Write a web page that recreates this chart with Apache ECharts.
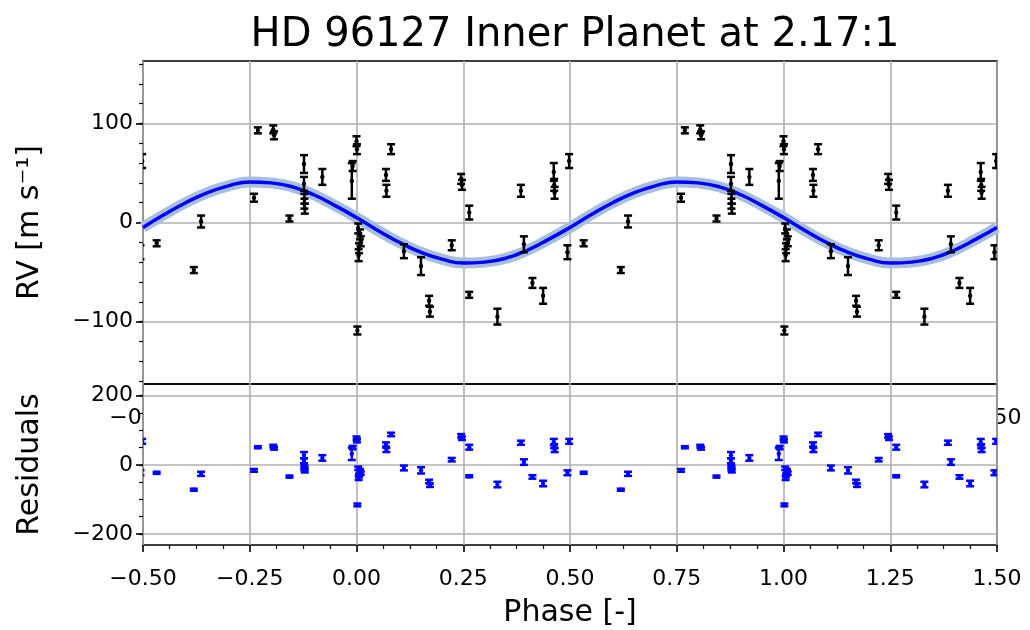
<!DOCTYPE html>
<html>
<head>
<meta charset="utf-8">
<script src="https://cdn.jsdelivr.net/npm/echarts@6/dist/echarts.min.js"></script>
<style>
  html, body { margin: 0; padding: 0; background: #fff; }
  #rvChart { width: 1030px; height: 630px; }
</style>
</head>
<body>
<div id="rvChart"></div>
<script>
// phase-folded measurements, one cycle (drawn again shifted by -1 / +1)
const obsPhase = [-0.468, -0.381, -0.364, -0.240, -0.231, -0.195, -0.193, -0.157, -0.123, -0.123,
  -0.122, -0.122, -0.121, -0.080, -0.009, -0.011, 0.000, 0.001, 0.004, 0.008,
  0.010, 0.006, 0.005, 0.002, 0.069, 0.070, 0.081, 0.111, 0.151, 0.170,
  0.172, 0.223, 0.245, 0.247, 0.264, 0.264, 0.330, 0.385, 0.392, 0.412,
  0.437, 0.462, 0.463, 0.464, 0.494, 0.498];
const obsRV = [-21, -48, 1, 25, 93, 94, 88, 4, 59, 39,
  24, 19, 14, 46, 57, 42, 82, 74, -6, -12,
  -19, -26, -33, -109, 48, 32, 74, -29, -44, -79,
  -90, -23, 44, 38, 10, -73, -95, 32, -22, -61,
  -74, 51, 38, 30, -30, 62];
const obsErr = [3, 3, 6, 4, 3, 4, 4, 3, 9, 7,
  5, 5, 5, 8, 5, 18, 5, 5, 5, 5,
  5, 5, 6, 4, 6, 6, 5, 7, 9, 5,
  5, 5, 5, 5, 7, 3, 8, 6, 8, 5,
  8, 9, 6, 6, 7, 7];
const obsResid = [-23, -72, -26, -16, 51, 54, 48, -34, 28, 12,
  -6, -11, -17, 20, 50, 32, 77, 70, -10, -17,
  -24, -31, -38, -116, 59, 43, 88, -9, -16, -48,
  -59, 15, 84, 77, 51, -33, -57, 64, 8, -35,
  -54, 66, 54, 43, -23, 68];

// fitted curve
const modelPhase = [-0.50, -0.45, -0.40, -0.35, -0.30, -0.25, -0.20, -0.15, -0.10, -0.05,
  0.00, 0.05, 0.10, 0.15, 0.20, 0.25, 0.30, 0.35, 0.40, 0.45,
  0.50, 0.55, 0.60, 0.65, 0.70, 0.75, 0.80, 0.85, 0.90, 0.95,
  1.00, 1.05, 1.10, 1.15, 1.20, 1.25, 1.30, 1.35, 1.40, 1.45, 1.50];
const modelRV = [-5, 8, 20, 30, 37, 41, 40, 36, 28, 17,
  5, -8, -20, -30, -37, -41, -40, -36, -28, -17,
  -5, 8, 20, 30, 37, 41, 40, 36, 28, 17,
  5, -8, -20, -30, -37, -41, -40, -36, -28, -17, -5];

// tick values
const rvTicks = [-100, 0, 100];
const rvMinorTicks = [-160, -140, -120, -100, -80, -60, -40, -20, 0, 20, 40, 60, 80, 100, 120, 140, 160];
const residTicks = [-200, 0, 200];
const residMinorTicks = [-200, -150, -100, -50, 0, 50, 100, 150, 200];

const FONT = 'DejaVu Sans';
const phaseShifts = [-1, 0, 1];

const rvPoints = [];
const residPoints = [];
phaseShifts.forEach(function (s) {
  obsPhase.forEach(function (p, i) {
    rvPoints.push([p + s, obsRV[i], obsErr[i]]);
    residPoints.push([p + s, obsResid[i], obsErr[i]]);
  });
});
const modelData = modelPhase.map(function (p, i) { return [p, modelRV[i]]; });

function fmtNum(v, digits) {
  return (v < 0 ? '\u2212' : '') + Math.abs(v).toFixed(digits);
}

// error bar with caps and a small dot
function errorBars(color) {
  return function (params, api) {
    const x = api.value(0), y = api.value(1), e = api.value(2);
    const mid = api.coord([x, y]);
    const hi = api.coord([x, y + e]);
    const lo = api.coord([x, y - e]);
    const cap = 4;
    const st = { stroke: color, lineWidth: 2.5 };
    return {
      type: 'group',
      children: [
        { type: 'line', shape: { x1: mid[0], y1: hi[1], x2: mid[0], y2: lo[1] }, style: st },
        { type: 'line', shape: { x1: mid[0] - cap, y1: hi[1], x2: mid[0] + cap, y2: hi[1] }, style: st },
        { type: 'line', shape: { x1: mid[0] - cap, y1: lo[1], x2: mid[0] + cap, y2: lo[1] }, style: st },
        { type: 'circle', shape: { cx: mid[0], cy: mid[1], r: 2.2 }, style: { fill: color } }
      ]
    };
  };
}

const gridLine = { show: true, lineStyle: { color: '#b0b0b0', width: 1.6 } };
const labelStyle = { color: '#000', fontFamily: FONT, fontSize: 22 };

function phaseAxis(gridIndex, z) {
  return {
    type: 'value', gridIndex: gridIndex, z: z,
    min: -0.5, max: 1.5, interval: 0.25,
    axisLine: { show: false, onZero: false },
    axisTick: { show: true, length: 7, lineStyle: { color: '#000', width: 1.6 } },
    minorTick: { show: true, splitNumber: 4, length: 4, lineStyle: { color: '#000', width: 1.2 } },
    axisLabel: Object.assign({ margin: 23, formatter: function (v) { return fmtNum(v, 2); } }, labelStyle),
    splitLine: gridLine
  };
}

const chart = echarts.init(document.getElementById('rvChart'));

const option = {
  animation: false,
  backgroundColor: '#fff',
  title: {
    text: 'HD 96127 Inner Planet at 2.17:1',
    left: 570, top: 11, textAlign: 'center',
    textStyle: { fontFamily: FONT, fontSize: 40, fontWeight: 'normal', color: '#000' }
  },
  grid: [
    { left: 143, top: 61, width: 854, height: 323, show: true, borderColor: '#000', borderWidth: 1.6, outerBoundsMode: 'none' },
    { left: 143, top: 384, width: 854, height: 161, show: true, borderColor: '#000', borderWidth: 1.6, outerBoundsMode: 'none' }
  ],
  xAxis: [
    phaseAxis(0, 0),
    Object.assign(phaseAxis(1, 2), {
      name: 'Phase [-]', nameLocation: 'middle', nameGap: 53,
      nameTextStyle: { fontFamily: FONT, fontSize: 30, color: '#000' }
    })
  ],
  yAxis: [
    {
      type: 'value', gridIndex: 0, min: -163, max: 163,
      axisLine: { show: false, onZero: false },
      axisTick: { show: true, length: 7, customValues: rvTicks, lineStyle: { color: '#000', width: 1.6 } },
      axisLabel: Object.assign({ margin: 10, customValues: rvTicks, formatter: function (v) { return fmtNum(v, 0); } }, labelStyle),
      splitLine: gridLine,
      name: 'RV [m s\u207B\u00B9]', nameLocation: 'middle', nameGap: 98,
      nameTextStyle: { fontFamily: FONT, fontSize: 30, color: '#000' }
    },
    {
      type: 'value', gridIndex: 0, min: -163, max: 163, position: 'left',
      axisLine: { show: false, onZero: false },
      axisTick: { show: true, length: 4, customValues: rvMinorTicks, lineStyle: { color: '#000', width: 1.2 } },
      axisLabel: { show: false },
      splitLine: { show: false }
    },
    {
      type: 'value', gridIndex: 1, min: -232, max: 234, z: 2,
      axisLine: { show: false, onZero: false },
      axisTick: { show: true, length: 7, customValues: residTicks, lineStyle: { color: '#000', width: 1.6 } },
      axisLabel: Object.assign({ margin: 10, customValues: residTicks, formatter: function (v) { return fmtNum(v, 0); } }, labelStyle),
      splitLine: gridLine,
      name: 'Residuals', nameLocation: 'middle', nameGap: 98,
      nameTextStyle: { fontFamily: FONT, fontSize: 30, color: '#000' }
    },
    {
      type: 'value', gridIndex: 1, min: -232, max: 234, z: 2, position: 'left',
      axisLine: { show: false, onZero: false },
      axisTick: { show: true, length: 4, customValues: residMinorTicks, lineStyle: { color: '#000', width: 1.2 } },
      axisLabel: { show: false },
      splitLine: { show: false }
    }
  ],
  // residual panel face: hides the upper panel's phase labels like the original
  graphic: [
    { type: 'rect', z: 1, shape: { x: 144, y: 385, width: 852, height: 159 }, style: { fill: '#fff' } }
  ],
  series: [
    {
      type: 'line', xAxisIndex: 0, yAxisIndex: 0, data: modelData, smooth: true,
      symbol: 'none', z: 3, clip: true,
      lineStyle: { color: '#a7bfdc', width: 11, cap: 'butt' }
    },
    {
      type: 'line', xAxisIndex: 0, yAxisIndex: 0, data: modelData, smooth: true,
      symbol: 'none', z: 4, clip: true,
      lineStyle: { color: '#0000ff', width: 3.5 }
    },
    {
      type: 'custom', xAxisIndex: 0, yAxisIndex: 0, data: rvPoints, z: 5, clip: true,
      encode: { x: 0, y: 1 }, renderItem: errorBars('#000000')
    },
    {
      type: 'custom', xAxisIndex: 1, yAxisIndex: 2, data: residPoints, z: 5, clip: true,
      encode: { x: 0, y: 1 }, renderItem: errorBars('#0000ff')
    }
  ]
};

chart.setOption(option);
</script>
</body>
</html>
